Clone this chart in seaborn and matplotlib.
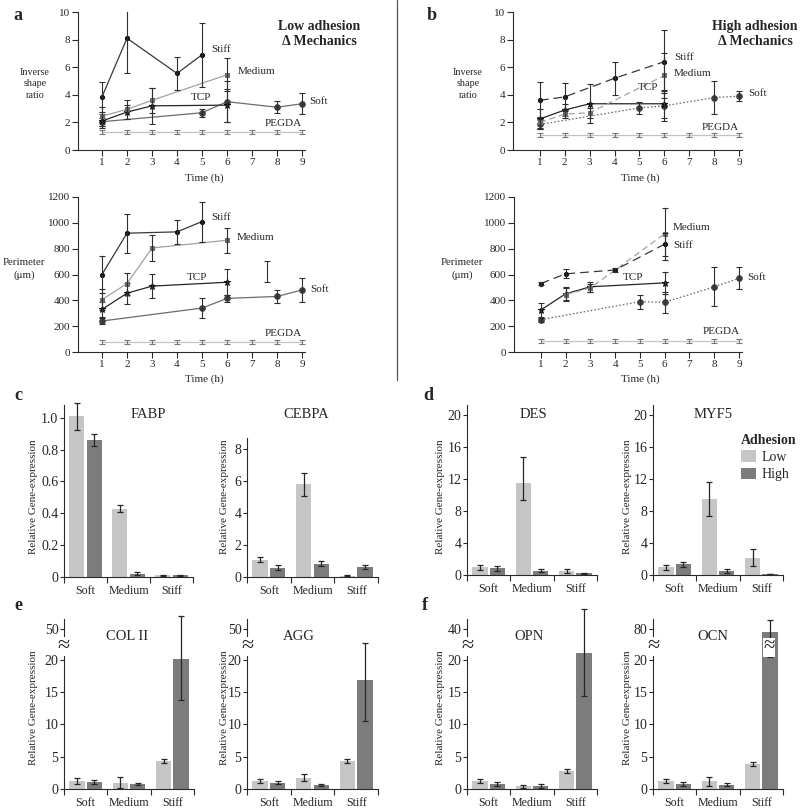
import matplotlib.pyplot as plt
import numpy as np
import pandas as pd
import seaborn as sns
from matplotlib.lines import Line2D
from matplotlib.patches import Patch


FIG_W, FIG_H = 800, 811
SERIF = ["Liberation Serif", "DejaVu Serif"]

HOURS = [1, 2, 3, 4, 5, 6, 7, 8, 9]
SERIES_ORDER = ["PEGDA", "Soft", "TCP", "Medium", "Stiff"]

# time course data: (hours, mean, error) per substrate
LOW_SHAPE = {
    "Stiff": ([1, 2, 4, 5], [3.85, 8.1, 5.55, 6.9], [1.1, 2.5, 1.2, 2.3]),
    "Medium": ([1, 2, 3, 6], [2.45, 2.95, 3.6, 5.45], [0.7, 0.7, 0.9, 1.2]),
    "TCP": ([1, 2, 3, 6], [2.1, 2.75, 3.2, 3.25], [0.5, 0.5, 1.3, 1.2]),
    "Soft": ([1, 5, 6, 8, 9], [2.05, 2.7, 3.5, 3.1, 3.35], [0.3, 0.3, 1.5, 0.45, 0.75]),
    "PEGDA": (HOURS, [1.3, 1.3, 1.3, 1.3, 1.3, 1.3, 1.3, 1.3, 1.3],
              [0.15, 0.15, 0.15, 0.15, 0.15, 0.15, 0.15, 0.15, 0.15]),
}
LOW_PERIM = {
    "Stiff": ([1, 2, 4, 5], [600, 920, 930, 1010], [140, 150, 95, 155]),
    "Medium": ([1, 2, 3, 6], [405, 530, 805, 865], [80, 85, 100, 95]),
    "TCP": ([1, 2, 3, 6], [330, 455, 510, 540], [60, 80, 95, 100]),
    "Soft": ([1, 5, 6, 8, 9], [240, 340, 415, 430, 480], [20, 80, 30, 50, 95]),
    "PEGDA": (HOURS, [78, 78, 78, 78, 78, 78, 78, 78, 78],
              [15, 15, 15, 15, 15, 15, 15, 15, 15]),
}
LOW_PERIM_STRAY = ([7.6], [625], [80])

HIGH_SHAPE = {
    "Stiff": ([1, 2, 4, 6], [3.6, 3.85, 5.2, 6.4], [1.35, 1.0, 1.2, 2.3]),
    "Medium": ([1, 2, 3, 6], [2.0, 2.6, 2.7, 5.4], [0.4, 0.3, 0.35, 1.6]),
    "TCP": ([1, 2, 3, 6], [2.25, 2.9, 3.35, 3.35], [0.75, 0.4, 1.4, 1.0]),
    "Soft": ([1, 5, 6, 8, 9], [1.85, 3.05, 3.2, 3.8, 3.9], [0.35, 0.45, 1.1, 1.2, 0.35]),
    "PEGDA": (HOURS, [1.1, 1.1, 1.1, 1.1, 1.1, 1.1, 1.1, 1.1, 1.1],
              [0.15, 0.15, 0.15, 0.15, 0.15, 0.15, 0.15, 0.15, 0.15]),
}
HIGH_PERIM = {
    "Stiff": ([1, 2, 4, 6], [530, 605, 635, 835], [15, 35, 15, 90]),
    "Medium": ([2, 3, 6], [445, 495, 915], [50, 30, 200]),
    "TCP": ([1, 2, 3, 6], [325, 450, 505, 535], [55, 50, 40, 85]),
    "Soft": ([1, 5, 6, 8, 9], [250, 390, 385, 505, 570], [15, 55, 80, 150, 85]),
    "PEGDA": (HOURS, [88, 88, 88, 88, 88, 88, 88, 88, 88],
              [15, 15, 15, 15, 15, 15, 15, 15, 15]),
}

# gene expression: Soft, Medium, Stiff; error is symmetric or (lower, upper)
SUBSTRATES = ["Soft", "Medium", "Stiff"]
ADHESION = ["Low", "High"]

FABP_LOW, FABP_LOW_ERR = [1.01, 0.43, 0.01], [0.085, 0.02, 0.003]
FABP_HIGH, FABP_HIGH_ERR = [0.86, 0.02, 0.01], [0.04, 0.01, 0.004]
CEBPA_LOW, CEBPA_LOW_ERR = [1.09, 5.82, 0.08], [0.17, 0.72, 0.02]
CEBPA_HIGH, CEBPA_HIGH_ERR = [0.59, 0.84, 0.63], [0.15, 0.15, 0.1]
DES_LOW, DES_LOW_ERR = [0.96, 11.5, 0.5], [0.35, (2.1, 3.3), 0.3]
DES_HIGH, DES_HIGH_ERR = [0.83, 0.54, 0.2], [0.3, 0.15, 0.05]
MYF5_LOW, MYF5_LOW_ERR = [0.96, 9.5, 2.17], [0.3, 2.1, 1.1]
MYF5_HIGH, MYF5_HIGH_ERR = [1.33, 0.5, 0.15], [0.3, 0.3, 0.03]
COL2_LOW, COL2_LOW_ERR = [1.23, 0.98, 4.37], [0.5, 0.8, 0.3]
COL2_HIGH, COL2_HIGH_ERR = [1.03, 0.77, 20.9], [0.3, 0.2, (7.1, 41.0)]
AGG_LOW, AGG_LOW_ERR = [1.23, 1.75, 4.3], [0.35, 0.5, 0.3]
AGG_HIGH, AGG_HIGH_ERR = [1.0, 0.62, 16.8], [0.3, 0.2, (6.3, 19.2)]
OPN_LOW, OPN_LOW_ERR = [1.18, 0.41, 2.72], [0.3, 0.2, 0.3]
OPN_HIGH, OPN_HIGH_ERR = [0.77, 0.41, 24.2], [0.35, 0.3, (9.8, 28.3)]
OCN_LOW, OCN_LOW_ERR = [1.18, 1.18, 3.85], [0.3, 0.7, 0.3]
OCN_HIGH, OCN_HIGH_ERR = [0.77, 0.67, 73.0], [0.35, 0.2, (48.5, 24.0)]

BAR_COLORS = {"Low": "#c6c6c6", "High": "#7c7c7c"}
BREAK_AT = 20

STYLE = {
    "Stiff": dict(line="#383838", mc="#151515", marker="o", ms=3, high_ls=(0, (7, 4))),
    "Medium": dict(line="#a2a2a2", mc="#6c6c6c", marker="s", ms=3.5, high_ls=(0, (5, 3))),
    "TCP": dict(line="#262626", mc="#111111", marker="*", ms=5, high_ls="-"),
    "Soft": dict(line="#6c6c6c", mc="#3e3e3e", marker="o", ms=4, high_ls=(0, (1.3, 1.6))),
    "PEGDA": dict(line="#c4c4c4", mc="#9a9a9a", marker=None, ms=0, high_ls="-"),
}


def fx(px):
    return px / FIG_W


def fy(py):
    return 1 - py / FIG_H


def add_axes(fig, left, top, right, bottom):
    return fig.add_axes([fx(left), fy(bottom), (right - left) / FIG_W, (bottom - top) / FIG_H])


def label(fig, x, y, text, size=8, ha="left", **kw):
    fig.text(fx(x), fy(y), text, fontsize=size, ha=ha, va="center", **kw)


def style_spines(ax):
    for side in ("top", "right"):
        ax.spines[side].set_visible(False)
    for side in ("left", "bottom"):
        ax.spines[side].set_linewidth(0.8)
        ax.spines[side].set_color("#2a2a2a")


def draw_time_panel(fig, box, series, xlim, ylim, yticks, high, stray=None):
    ax = add_axes(fig, *box)
    for name in SERIES_ORDER:
        t, y, e = series[name]
        st = STYLE[name]
        sns.lineplot(
            x=t, y=y, ax=ax, color=st["line"], linewidth=0.9,
            linestyle=st["high_ls"] if high else "-",
            marker=st["marker"], markersize=st["ms"],
            markerfacecolor=st["mc"], markeredgecolor=st["mc"], errorbar=None,
        )
        ecolor = "#777777" if name == "PEGDA" else "#2e2e2e"
        ax.errorbar(t, y, yerr=e, fmt="none", ecolor=ecolor, elinewidth=0.8,
                    capsize=2.5, capthick=0.8)
    if stray is not None:
        ax.errorbar(stray[0], stray[1], yerr=stray[2], fmt="none", ecolor="#2e2e2e",
                    elinewidth=0.8, capsize=2.5, capthick=0.8)
    ax.set_xlim(*xlim)
    ax.set_ylim(*ylim)
    ax.set_xticks(HOURS)
    ax.set_xticklabels([str(h) for h in HOURS])
    ax.set_yticks(yticks)
    ax.set_yticklabels([str(v) for v in yticks])
    ax.set_xlabel("")
    ax.set_ylabel("")
    ax.tick_params(direction="out", length=4, width=0.8, pad=1.5, labelsize=8,
                   color="#2a2a2a")
    style_spines(ax)
    return ax


def split_err(errs):
    lo = [e[0] if isinstance(e, tuple) else e for e in errs]
    hi = [e[1] if isinstance(e, tuple) else e for e in errs]
    return lo, hi


def draw_gene_panel(fig, box, low, low_err, high, high_err, ylim, yticks, ticklabels,
                    top_tick=None):
    ax = add_axes(fig, *box)
    df = pd.DataFrame({
        "Substrate": SUBSTRATES + SUBSTRATES,
        "Adhesion": ["Low"] * len(low) + ["High"] * len(high),
        "Value": low + high,
    })
    sns.barplot(data=df, x="Substrate", y="Value", hue="Adhesion", order=SUBSTRATES,
                hue_order=ADHESION, palette=BAR_COLORS, errorbar=None, width=0.8,
                gap=0.12, legend=False, linewidth=0, ax=ax)
    for container, errs in zip(ax.containers, (low_err, high_err)):
        xs = [b.get_x() + b.get_width() / 2 for b in container]
        hs = [b.get_height() for b in container]
        eb = ax.errorbar(xs, hs, yerr=split_err(errs), fmt="none", ecolor="#262626",
                         elinewidth=0.9, capsize=2.5, capthick=0.9)
        for child in eb.get_children():
            child.set_clip_on(False)

    if top_tick is not None:
        k = 4.8 / (top_tick - BREAK_AT)

        def fwd(v):
            v = np.asarray(v, dtype=float)
            return np.where(v <= BREAK_AT, v, BREAK_AT + (v - BREAK_AT) * k)

        def inv(p):
            p = np.asarray(p, dtype=float)
            return np.where(p <= BREAK_AT, p, BREAK_AT + (p - BREAK_AT) / k)

        ax.set_yscale("function", functions=(fwd, inv))
        ylim = (0, float(inv(26.3)))

    ax.set_ylim(*ylim)
    ax.set_yticks(yticks)
    ax.set_yticklabels(ticklabels)
    ax.set_xlim(-0.5, 2.5)
    ax.set_xticks([-0.5, 0.5, 1.5, 2.5])
    ax.set_xticklabels(["", "", "", ""])
    ax.set_xticks([0, 1, 2], minor=True)
    ax.set_xticklabels(SUBSTRATES, minor=True)
    ax.set_xlabel("")
    ax.set_ylabel("")
    ax.tick_params(axis="y", direction="out", length=3, width=0.8, pad=1,
                   labelsize=10, color="#2a2a2a")
    ax.tick_params(axis="x", which="major", direction="out", length=4, width=0.8,
                   color="#2a2a2a")
    ax.tick_params(axis="x", which="minor", length=0, pad=5.5, labelsize=8.6)
    style_spines(ax)
    return ax


def axis_break(fig, x, y, size=16):
    fig.text(fx(x), fy(y), "\u2248", fontsize=size, ha="center", va="center",
             bbox=dict(boxstyle="square,pad=0.0", fc="white", ec="none"))


def main():
    sns.set_theme(style="ticks")
    plt.rcParams["font.family"] = SERIF

    fig = plt.figure(figsize=(FIG_W / 100, FIG_H / 100), dpi=100)

    # panels a and b: cell shape and perimeter over time
    draw_time_panel(fig, (78, 12, 305, 150), LOW_SHAPE, (0.04, 9.12), (0, 10),
                    [0, 2, 4, 6, 8, 10], high=False)
    draw_time_panel(fig, (78, 197, 305, 352), LOW_PERIM, (0.04, 9.12), (0, 1200),
                    [0, 200, 400, 600, 800, 1000, 1200], high=False, stray=LOW_PERIM_STRAY)
    draw_time_panel(fig, (513, 12, 742, 150), HIGH_SHAPE, (-0.08, 9.12), (0, 10),
                    [0, 2, 4, 6, 8, 10], high=True)
    draw_time_panel(fig, (514, 197, 742, 352), HIGH_PERIM, (-0.08, 9.12), (0, 1200),
                    [0, 200, 400, 600, 800, 1000, 1200], high=True)

    for cx in (204, 640):
        label(fig, cx, 178, "Time (h)", ha="center")
        label(fig, cx, 379, "Time (h)", ha="center")
    label(fig, 35, 84, "Inverse\nshape\nratio", size=7.3, ha="center", linespacing=1.3)
    label(fig, 468, 84, "Inverse\nshape\nratio", size=7.3, ha="center", linespacing=1.3)
    label(fig, 24, 269, "Perimeter\n(\u03bcm)", size=7.8, ha="center", linespacing=1.35)
    label(fig, 462, 269, "Perimeter\n(\u03bcm)", size=7.8, ha="center", linespacing=1.35)

    label(fig, 319, 34, "Low adhesion\n\u0394 Mechanics", size=10, ha="center",
          fontweight="bold", linespacing=1.2)
    label(fig, 755, 34, "High adhesion\n\u0394 Mechanics", size=10, ha="center",
          fontweight="bold", linespacing=1.2)

    for x, y, text in [(211, 50, "Stiff"), (238, 71, "Medium"), (191, 98, "TCP"),
                       (309, 101, "Soft"), (265, 124, "PEGDA"),
                       (211, 218, "Stiff"), (237, 237, "Medium"), (187, 277, "TCP"),
                       (310, 289, "Soft"), (265, 333, "PEGDA"),
                       (674, 57, "Stiff"), (674, 74, "Medium"), (638, 88, "TCP"),
                       (748, 94, "Soft"), (702, 127, "PEGDA"),
                       (673, 228, "Medium"), (673, 245, "Stiff"), (623, 277, "TCP"),
                       (747, 277, "Soft"), (703, 332, "PEGDA")]:
        label(fig, x, y, text)

    fig.add_artist(Line2D([fx(397), fx(397)], [fy(0), fy(380)], transform=fig.transFigure,
                          color="#555555", linewidth=0.9))

    # panels c-f: relative gene expression
    draw_gene_panel(fig, (64, 405, 193, 577), FABP_LOW, FABP_LOW_ERR, FABP_HIGH,
                    FABP_HIGH_ERR, (0, 1.08), [0, 0.2, 0.4, 0.6, 0.8, 1.0],
                    ["0", "0.2", "0.4", "0.6", "0.8", "1.0"])
    draw_gene_panel(fig, (247, 438, 378, 577), CEBPA_LOW, CEBPA_LOW_ERR, CEBPA_HIGH,
                    CEBPA_HIGH_ERR, (0, 8.7), [0, 2, 4, 6, 8], ["0", "2", "4", "6", "8"])
    des_ticks = [0, 4, 8, 12, 16, 20]
    draw_gene_panel(fig, (467, 405, 597, 575), DES_LOW, DES_LOW_ERR, DES_HIGH,
                    DES_HIGH_ERR, (0, 21.25), des_ticks, [str(v) for v in des_ticks])
    ax_myf5 = draw_gene_panel(fig, (653, 405, 783, 575), MYF5_LOW, MYF5_LOW_ERR, MYF5_HIGH,
                              MYF5_HIGH_ERR, (0, 21.25), des_ticks,
                              [str(v) for v in des_ticks])

    for box, low, low_err, high, high_err, top in [
        ((64, 619, 194, 789), COL2_LOW, COL2_LOW_ERR, COL2_HIGH, COL2_HIGH_ERR, 50),
        ((247, 619, 378, 789), AGG_LOW, AGG_LOW_ERR, AGG_HIGH, AGG_HIGH_ERR, 50),
        ((467, 619, 597, 789), OPN_LOW, OPN_LOW_ERR, OPN_HIGH, OPN_HIGH_ERR, 40),
        ((653, 619, 783, 789), OCN_LOW, OCN_LOW_ERR, OCN_HIGH, OCN_HIGH_ERR, 80),
    ]:
        ticks = [0, 5, 10, 15, 20, top]
        draw_gene_panel(fig, box, low, low_err, high, high_err, None, ticks,
                        [str(v) for v in ticks], top_tick=top)
        axis_break(fig, box[0], 646)
    axis_break(fig, 769, 647, size=15)

    for x, y, text in [(148, 415, "FABP"), (306, 415, "CEBPA"), (533, 415, "DES"),
                       (713, 415, "MYF5"), (127, 637, "COL II"), (299, 637, "AGG"),
                       (529, 637, "OPN"), (713, 637, "OCN")]:
        label(fig, x, y, text, size=10.5, ha="center")
    for x, y in [(33, 497), (224, 497), (440, 497), (627, 497),
                 (33, 708), (224, 708), (440, 708), (627, 708)]:
        label(fig, x, y, "Relative Gene-expression", size=8, ha="center", rotation=90)

    ax_myf5.legend(
        handles=[Patch(facecolor=BAR_COLORS[a], edgecolor="none") for a in ADHESION],
        labels=ADHESION, title="Adhesion", loc="upper left",
        bbox_to_anchor=(fx(741), fy(434)), bbox_transform=fig.transFigure,
        frameon=False, borderpad=0, borderaxespad=0, fontsize=10,
        title_fontproperties={"weight": "bold", "size": 10}, alignment="left",
        handlelength=1.1, handleheight=0.9, handletextpad=0.35, labelspacing=0.25,
    )

    for x, y, letter in [(18, 16, "a"), (432, 16, "b"), (18, 395, "c"), (428, 395, "d"),
                         (18, 605, "e"), (425, 605, "f")]:
        label(fig, x, y, letter, size=13, ha="center", fontweight="bold")

    fig.savefig("out.png", dpi=100, facecolor="white")
    plt.close(fig)


if __name__ == "__main__":
    main()
